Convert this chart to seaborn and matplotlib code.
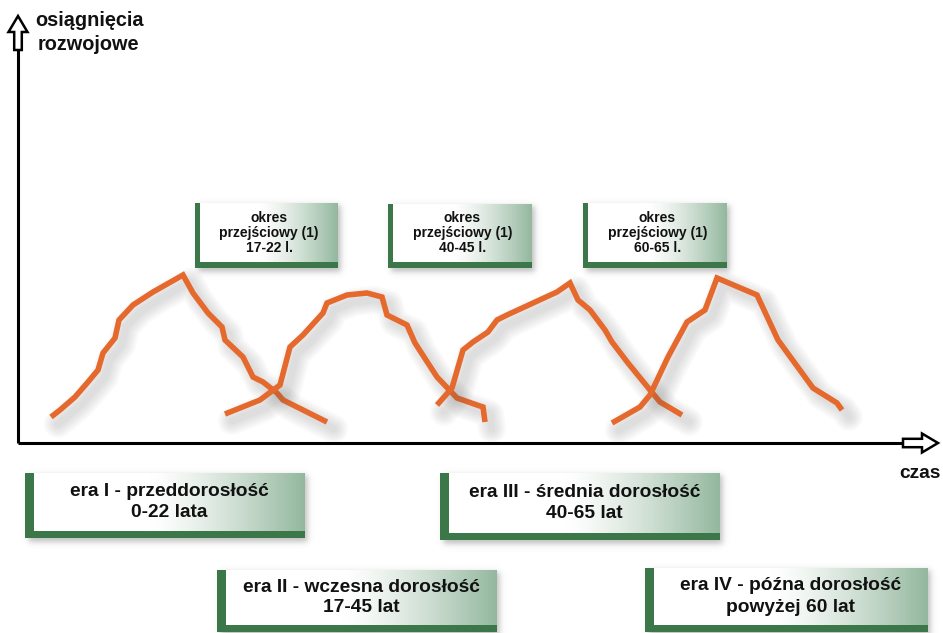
import numpy as np
import pandas as pd
import matplotlib
matplotlib.use("Agg")
import matplotlib.pyplot as plt
import matplotlib.patheffects as pe
from matplotlib.patches import Polygon, Rectangle
import seaborn as sns

# Developmental curves: time (x) and level of achievement (y), measured from the axis origin
era1_t = [33, 42, 57, 70, 80, 85, 97, 101, 115, 135, 165, 175, 190, 204, 207, 225, 235, 245, 259, 265, 309]
era1_v = [26, 33, 46, 61, 73, 90, 105, 123, 138, 151, 168, 150, 130, 116, 103, 86, 66, 61, 50, 43, 21]
era2_t = [207, 242, 262, 272, 285, 305, 309, 329, 349, 364, 369, 389, 397, 419, 439, 459, 465, 467]
era2_v = [29, 43, 58, 96, 108, 130, 140, 148, 150, 146, 128, 118, 100, 66, 45, 38, 36, 21]
era3_t = [419, 434, 445, 455, 470, 479, 489, 539, 552, 560, 572, 587, 594, 610, 632, 642, 664]
era3_v = [38, 55, 93, 101, 111, 123, 128, 151, 160, 143, 133, 113, 101, 80, 53, 41, 28]
era4_t = [594, 622, 632, 650, 669, 687, 699, 739, 760, 795, 819, 824]
era4_v = [20, 36, 48, 86, 121, 133, 165, 148, 103, 55, 40, 33]

era_names = ["era I - przeddorosłość", "era II - wczesna dorosłość",
             "era III - średnia dorosłość", "era IV - późna dorosłość"]
era_ranges = ["0-22 lata", "17-45 lat", "40-65 lat", "powyżej 60 lat"]
transition_title = ["okres", "przejściowy (1)"]
transition_ranges = ["17-22 l.", "40-45 l.", "60-65 l."]
y_label = ["osiągnięcia", "rozwojowe"]
x_label = "czas"

ORANGE = "#E5692C"
GREEN = "#3B7748"
GRAD_END = np.array([0.58, 0.72, 0.62])
INK = "#111111"

sns.set_theme(style="white")
plt.rcParams["font.family"] = ["Liberation Sans", "DejaVu Sans"]
plt.rcParams["font.weight"] = "bold"

W, H = 943, 633
OX, OY = 18, 443  # axis origin in figure pixels


def X(px):
    return px - OX


def Y(py):
    return OY - py


fig = plt.figure(figsize=(W / 100, H / 100), dpi=100)
ax = fig.add_axes([0, 0, 1, 1])

frames = []
for i, (t, v) in enumerate([(era1_t, era1_v), (era2_t, era2_v), (era3_t, era3_v), (era4_t, era4_v)]):
    frames.append(pd.DataFrame({"czas": t, "poziom": v, "era": era_names[i]}))
curves = pd.concat(frames, ignore_index=True)

sns.lineplot(data=curves, x="czas", y="poziom", hue="era", units="era", estimator=None,
             sort=False, palette=[ORANGE] * 4, legend=False, linewidth=4.0, ax=ax, zorder=5)

# soft drop shadow built from several translucent strokes of decreasing width
shadow = [pe.SimpleLineShadow(offset=(5, -5), shadow_color="#606060", alpha=0.035,
                              linewidth=lw, capstyle="round", joinstyle="round")
          for lw in (20, 17, 14, 11, 8, 5)]
shadow.append(pe.Normal())
for ln in ax.lines:
    ln.set_solid_capstyle("butt")
    ln.set_solid_joinstyle("miter")
    ln.set_path_effects(shadow)


def soft_shadow(x0, x1, y0, y1, s=4.0, a=0.35, z=1):
    """Blurred grey rectangle (pixel box) drawn as an image."""
    pad = 4 * s
    xs = np.linspace(x0 - pad, x1 + pad, 300)
    ys = np.linspace(y0 - pad, y1 + pad, 120)
    sx = 0.5 * (np.tanh((xs - x0) / s) - np.tanh((xs - x1) / s))
    sy = 0.5 * (np.tanh((ys - y0) / s) - np.tanh((ys - y1) / s))
    alpha = a * np.outer(sy, sx)
    img = np.zeros((len(ys), len(xs), 4))
    img[..., :3] = 0.45
    img[..., 3] = alpha
    ax.imshow(img, extent=[X(x0 - pad), X(x1 + pad), Y(y1 + pad), Y(y0 - pad)],
              origin="upper", aspect="auto", interpolation="bilinear", zorder=z)


def framed_box(left, top, right, bottom, bar_l, bar_b, lines, size, line_gap, z=2):
    soft_shadow(left + 3, right + 3, top + 2, bottom + 4, s=3.5, a=0.45, z=z)
    t = np.linspace(0, 1, 256)
    w = np.clip((t - 0.45) / 0.55, 0, 1) ** 1.3
    rgb = (1 - w)[:, None] + w[:, None] * GRAD_END
    img = np.tile(rgb[None, :, :], (2, 1, 1))
    ax.imshow(img, extent=[X(left), X(right), Y(bottom), Y(top)], aspect="auto",
              interpolation="bilinear", zorder=z + 0.1)
    ax.add_patch(Rectangle((X(left), Y(bottom)), bar_l, bottom - top, color=GREEN, lw=0, zorder=z + 0.2))
    ax.add_patch(Rectangle((X(left), Y(bottom)), right - left, bar_b, color=GREEN, lw=0, zorder=z + 0.2))
    cx = (left + bar_l + right) / 2
    cy = (top + bottom - bar_b) / 2
    n = len(lines)
    for k, txt in enumerate(lines):
        py = cy + (k - (n - 1) / 2) * line_gap
        ax.text(X(cx), Y(py), txt, ha="center", va="center", fontsize=size,
                fontweight="bold", color=INK, zorder=z + 0.3)


# transition-period boxes
trans_boxes = [(195, 203, 338, 268), (388, 204, 532, 268), (583, 203, 727, 268)]
for (l, tp, r, b), rng in zip(trans_boxes, transition_ranges):
    framed_box(l, tp, r, b, 5, 6, transition_title + [rng], 10, 15)

# era boxes
era_boxes = [(25, 473, 305, 538), (217, 570, 497, 632), (440, 473, 720, 540), (645, 568, 928, 632)]
for (l, tp, r, b), name, rng in zip(era_boxes, era_names, era_ranges):
    framed_box(l, tp, r, b, 9, 7, [name, rng], 13.8, 21)

# axes with hollow arrow heads
ax.plot([0, 0], [0, Y(50)], color="black", lw=2.2, solid_capstyle="butt", zorder=6)
ax.plot([0, X(903)], [0, 0], color="black", lw=2.2, solid_capstyle="butt", zorder=6)
up = [(-3.8, Y(50)), (3.8, Y(50)), (3.8, Y(32)), (9.5, Y(32)), (0, Y(16)),
      (-9.5, Y(32)), (-3.8, Y(32))]
ax.add_patch(Polygon(up, closed=True, fc="white", ec="black", lw=1.8, joinstyle="miter", zorder=7))
right = [(X(903), 4.2), (X(922), 4.2), (X(922), 9.5), (X(938), 0), (X(922), -9.5),
         (X(922), -4.2), (X(903), -4.2)]
ax.add_patch(Polygon(right, closed=True, fc="white", ec="black", lw=1.8, joinstyle="miter", zorder=7))

ax.text(X(35), Y(20), y_label[0], ha="left", va="center", fontsize=14.3, fontweight="bold", color=INK)
ax.text(X(38), Y(45), y_label[1], ha="left", va="center", fontsize=14.3, fontweight="bold", color=INK)
ax.text(X(920), Y(473), x_label, ha="center", va="center", fontsize=13.8, fontweight="bold", color=INK)

ax.set_xlim(X(0), X(W))
ax.set_ylim(Y(H), Y(0))
ax.axis("off")
fig.savefig("out.png", dpi=100, facecolor="white")
